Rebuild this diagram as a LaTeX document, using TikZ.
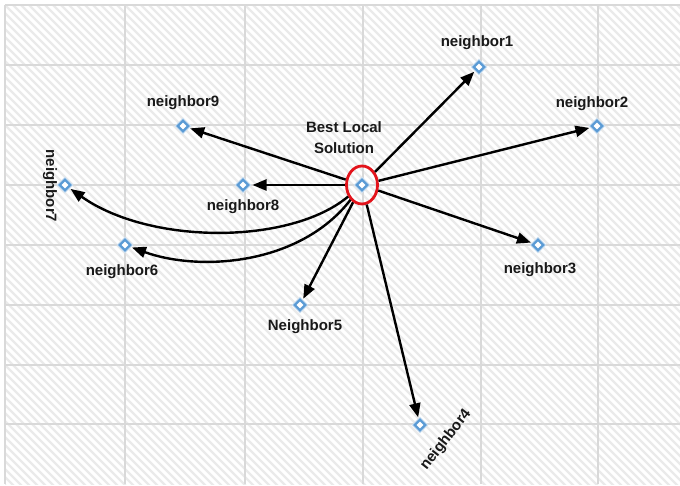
\documentclass[tikz,border=0pt]{standalone}
\usepackage{fontspec}
\setmainfont{Liberation Sans}
\usetikzlibrary{shapes.geometric,arrows.meta}
\definecolor{hatch}{HTML}{EAEAEA}
\definecolor{gridc}{HTML}{D9D9D9}
\definecolor{dia}{HTML}{5B9BD5}
\definecolor{ring}{HTML}{E3131B}
\begin{document}
\begin{tikzpicture}[x=1pt,y=-1pt,
  lbl/.style={font=\fontsize{15}{21}\selectfont\bfseries, text=black!90, inner sep=0pt, align=center},
  pt/.style={diamond, draw=dia, line width=2.2pt, fill=white, minimum size=13pt, inner sep=0pt, outer sep=3pt,
    preaction={draw=dia!30, line width=4.5pt}},
  link/.style={line width=2.4pt, -{Triangle[length=14pt,width=11pt]}},
]
\useasboundingbox (0,0) rectangle (680,486);
\fill[white] (0,0) rectangle (680,486);
% hatched background
\begin{scope}
  \clip (5,5) rectangle (680,484);
  \foreach \i in {-480,-472,...,680} \draw[hatch, line width=2.4pt] (\i,0) -- ++(490,490);
\end{scope}
% grid
\foreach \x in {5,125,245,363,481,598} \draw[gridc, line width=1.8pt] (\x,5) -- (\x,484);
\foreach \y in {5,65,125,185,245,305,365,424} \draw[gridc, line width=1.8pt] (5,\y) -- (680,\y);

% points
\node[ellipse, draw=ring, line width=2.8pt, minimum width=31pt, minimum height=38pt, inner sep=0pt] (c) at (362,185) {};
\node[pt] (cd) at (362,185) {};
\node[pt] (n1) at (479,67) {};
\node[pt] (n2) at (597,126) {};
\node[pt] (n3) at (538,245) {};
\node[pt] (n4) at (420,425) {};
\node[pt] (n5) at (300,305) {};
\node[pt] (n6) at (125,245) {};
\node[pt] (n7) at (65,185) {};
\node[pt] (n8) at (243,185) {};
\node[pt] (n9) at (183,126) {};

% labels
\node[lbl] (lc) at (344,138) {Best Local\\Solution};
\node[lbl] (l1) at (477,43) {neighbor1};
\node[lbl] (l2) at (592,104) {neighbor2};
\node[lbl] (l3) at (540,270) {neighbor3};
\node[lbl, rotate=52] (l4) at (446,440) {neighbor4};
\node[lbl] (l5) at (305,327) {Neighbor5};
\node[lbl] (l6) at (122,272) {neighbor6};
\node[lbl, rotate=-90] (l7) at (50,186) {neighbor7};
\node[lbl] (l8) at (243,207) {neighbor8};
\node[lbl] (l9) at (183,103) {neighbor9};

% moves to neighbours
\draw[link] (c) -- (n1);
\draw[link] (c) -- (n2);
\draw[link] (c) -- (n3);
\draw[link] (c) -- (n4);
\draw[link] (c) -- (n5);
\draw[link] (c) -- (n8);
\draw[link] (c) -- (n9);
\draw[link] (c) .. controls (290,245) and (150,245) .. (n7);
\draw[link] (c) .. controls (300,265) and (200,272) .. (n6);
\end{tikzpicture}
\end{document}
